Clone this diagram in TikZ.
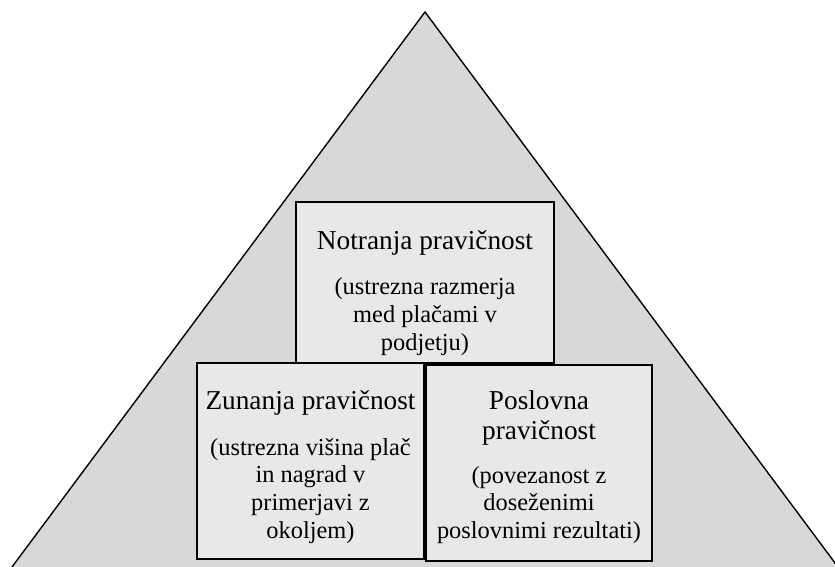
\documentclass[tikz,border=0pt]{standalone}
\usepackage{fontspec}
\setmainfont{Liberation Serif}
\begin{document}
\begin{tikzpicture}[x=1pt,y=-1pt,
  pyramid/.style={draw=black,line width=1.4pt,fill=pyrgray},
  panel/.style={draw=black,line width=1.4pt,fill=boxgray,rectangle,inner sep=0pt},
  heading/.style={align=center,font=\fontsize{27.3}{30}\selectfont,inner sep=0pt},
  detail/.style={align=center,font=\fontsize{24.4}{27.8}\selectfont,inner sep=0pt}]
\definecolor{pyrgray}{HTML}{D8D8D8}
\definecolor{boxgray}{HTML}{E8E8E8}
\useasboundingbox (0,0) rectangle (835,567);
\begin{scope}
  \clip (0,0) rectangle (835,567);
  \draw[pyramid] (425,12) -- (-20,610) -- (870,610) -- cycle;
\end{scope}
% three equity panels
\node[panel,minimum width=258pt,minimum height=161pt] (inner) at (425,282.5) {};
\node[panel,minimum width=227pt,minimum height=196pt] (outer) at (310.5,461) {};
\node[panel,minimum width=226pt,minimum height=196pt] (business) at (539,463) {};
% texts
\node[heading] (innerT) at (425,243) {Notranja pravičnost};
\node[detail] (innerD) at (425,316.5) {(ustrezna razmerja\\med plačami v\\podjetju)};
\node[heading] (outerT) at (310.5,403) {Zunanja pravičnost};
\node[detail] (outerD) at (310.5,491) {(ustrezna višina plač\\in nagrad v\\primerjavi z\\okoljem)};
\node[heading] (businessT) at (539,418) {Poslovna\\pravičnost};
\node[detail] (businessD) at (539,505) {(povezanost z\\doseženimi\\poslovnimi rezultati)};
\end{tikzpicture}
\end{document}
